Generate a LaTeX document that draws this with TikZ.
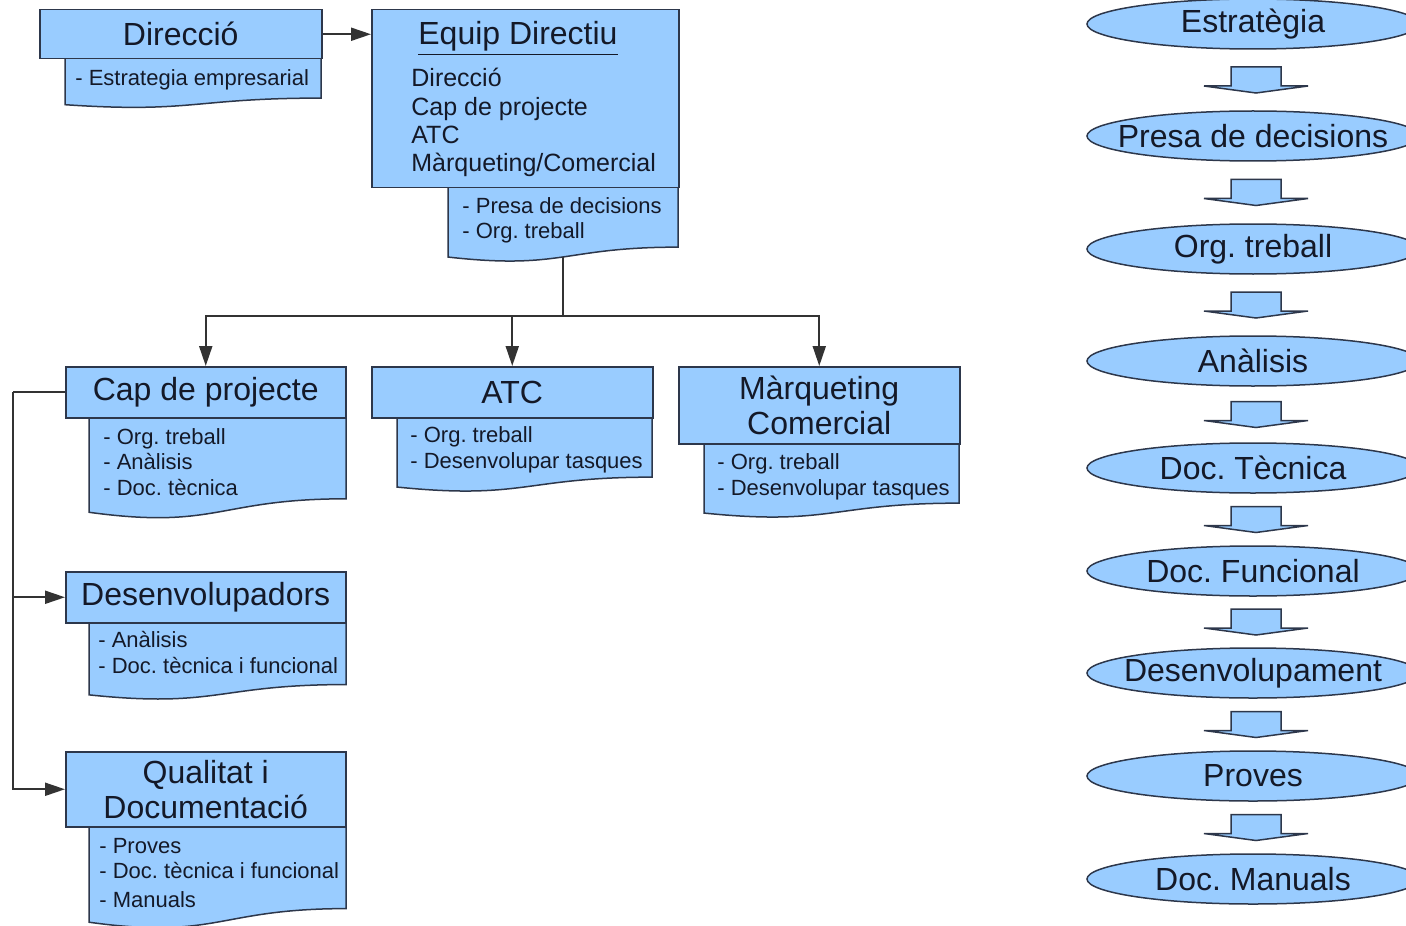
\documentclass[tikz,border=0pt]{standalone}
\usepackage{fontspec}
\setmainfont{Liberation Sans}
\usetikzlibrary{positioning}
\usetikzlibrary{calc}
\usetikzlibrary{shapes.geometric}
\usetikzlibrary{arrows.meta}
\definecolor{boxfill}{RGB}{153,204,255}
\definecolor{boxline}{RGB}{45,55,75}
\definecolor{ink}{RGB}{20,25,40}
\tikzstyle{block} = [draw = boxline, fill = boxfill, line width = 0.75pt, rectangle, inner sep = 0pt, text = ink, font = \fontsize{16}{17.5}\selectfont, align = center, anchor = north west]
\tikzstyle{doc} = [draw = boxline, fill = boxfill, line width = 0.75pt]
\tikzstyle{item} = [inner sep = 0pt, text = ink, align = left, anchor = base west, font = \fontsize{11}{12.75}\selectfont]
\tikzstyle{phase} = [draw = boxline, fill = boxfill, line width = 0.75pt, ellipse, minimum width = 166pt, minimum height = 25pt, inner sep = 0pt, text = ink, font = \fontsize{16}{18}\selectfont]
\tikzstyle{flow} = [draw = boxline, fill = boxfill, line width = 0.75pt]
\tikzstyle{line} = [line width = 1pt, draw = black!80]
\tikzstyle{arrow} = [line, -{Triangle[length = 10pt, width = 6.5pt]}]
% document shape: left x, right x, top y, height
\newcommand{\docshape}[4]{
	\draw[doc] (#1,#3) -- (#2,#3) -- (#2,{#3+0.802*#4})
	.. controls ({(#1+#2)/2},{#3+0.802*#4}) and ({(#1+#2)/2},{#3+1.107*#4}) .. (#1,{#3+0.934*#4}) -- cycle;
}
\begin{document}
\frenchspacing
\begin{tikzpicture}[x = 0.5pt, y = -0.5pt]
	\useasboundingbox (0,0) rectangle (1406,925);
	\clip (0,0) rectangle (1406,925);
	
		% Documents under the boxes
		\docshape{65}{321}{58}{50}
		\docshape{448}{678}{187}{75}
		\docshape{89}{346}{417}{102}
		\docshape{397}{652}{417}{75}
		\docshape{704}{959}{443}{75}
		\docshape{89}{346}{622}{78}
		\docshape{89}{346}{826}{103}
		
		% Direccio (item nodes sit on the baseline of their last line)
		\node[block, minimum width = 141pt, minimum height = 24.5pt] (direccio) at (39,9) {Direcció};
		\node[item] (direcciodoc) at (75,86) {- Estrategia empresarial};
		
		% Equip directiu
		\node[block, minimum width = 153.5pt, minimum height = 89pt] (equip) at (371,9) {};
		\node[inner sep = 0pt, text = ink, anchor = base, font = \fontsize{16}{18}\selectfont] (equiptitle) at (518,45) {\underline{Equip Directiu}};
		\node[item, font = \fontsize{12.5}{14.2}\selectfont] (equiplist) at (411,172) {Direcció\\Cap de projecte\\ATC\\Màrqueting/Comercial};
		\node[item, font = \fontsize{11}{12.5}\selectfont] (equipdoc) at (462,238) {- Presa de decisions\\- Org. treball};
		\coordinate (equipbottom) at (563,257);
		\coordinate[below = 29.5pt of equipbottom] (split);
		
		% Second level
		\node[block, minimum width = 140pt, minimum height = 25.5pt] (cap) at (65,366) {Cap de projecte};
		\node[item] (capdoc) at (103,495) {- Org. treball\\- Anàlisis\\- Doc. tècnica};
		\node[block, minimum width = 140.5pt, minimum height = 25.5pt] (atc) at (371,366) {ATC};
		\node[item] (atcdoc) at (410,468) {- Org. treball\\- Desenvolupar tasques};
		\node[block, minimum width = 140.5pt, minimum height = 38.5pt] (marq) at (678,366) {Màrqueting\\Comercial};
		\node[item] (marqdoc) at (717,495) {- Org. treball\\- Desenvolupar tasques};
		
		% Under cap de projecte
		\node[block, minimum width = 140pt, minimum height = 25.5pt] (desenv) at (65,571) {Desenvolupadors};
		\node[item] (desenvdoc) at (98,673) {- Anàlisis\\- Doc. tècnica i funcional};
		\node[block, minimum width = 140pt, minimum height = 37.5pt] (qualitat) at (65,751) {Qualitat i\\Documentació};
		\node[item] (qualitatdoc) at (99,907) {- Proves\\- Doc. tècnica i funcional\\[1.5pt]- Manuals};
		\coordinate[left = 26pt of cap.west] (bus);
		
		% Phases
		\foreach \name/\y/\txt in {estrategia/24/Estratègia, presa/136/Presa de decisions, org/249/Org. treball, analisis/361/Anàlisis, tecnica/468/Doc. Tècnica, funcional/571/Doc. Funcional, desenvolupament/673/Desenvolupament, proves/776/Proves, manuals/879/Doc. Manuals}
			\node[phase] (\name) at (1253,\y) {\makebox[0pt]{\txt}};
		\foreach \a/\b in {estrategia/presa, presa/org, org/analisis, analisis/tecnica, tecnica/funcional, funcional/desenvolupament, desenvolupament/proves, proves/manuals}
		{
			\coordinate (m) at ($(\a.south)!0.5!(\b.north) + (3,0)$);
			\draw[flow] ($(m) + (-25,-13)$) -- ($(m) + (25,-13)$) -- ($(m) + (25,6)$) -- ($(m) + (52,6)$)
			-- ($(m) + (0,13)$) -- ($(m) + (-52,6)$) -- ($(m) + (-25,6)$) -- cycle;
		}
		
		% Connect all nodes defined above
		\draw[arrow] (direccio.east) -- (equip.west |- direccio.east);
		\draw[line] (equipbottom) -- (split);
		\draw[arrow] (split) -| (cap.north);
		\draw[arrow] (split) -| (atc.north);
		\draw[arrow] (split) -| (marq.north);
		\draw[line] (cap.west) -- (bus);
		\draw[arrow] (bus) |- (desenv.west);
		\draw[arrow] (bus) |- (qualitat.west);
		
	\end{tikzpicture}
\end{document}
